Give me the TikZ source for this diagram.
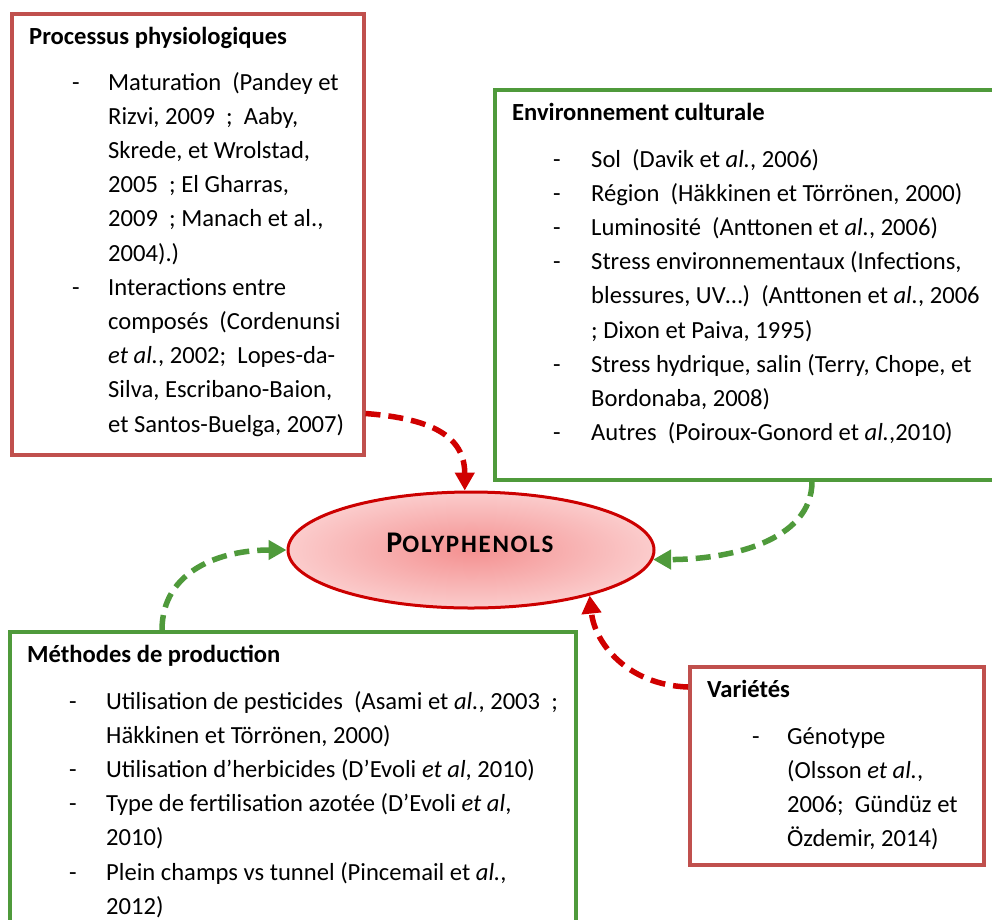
\documentclass[tikz,border=0pt]{standalone}
\usepackage{fontspec}
\setmainfont{Carlito}
\usetikzlibrary{arrows.meta,shapes.geometric,calc}
\definecolor{boxred}{RGB}{192,80,77}
\definecolor{boxgreen}{RGB}{79,154,59}
\definecolor{arrred}{RGB}{208,0,0}
\definecolor{ellred}{RGB}{204,0,0}
\definecolor{ellin}{RGB}{244,145,145}
\definecolor{ellout}{RGB}{251,204,204}
\tikzset{
  rbox/.style={draw=boxred, line width=3.5pt, rectangle, inner sep=0pt, anchor=north west},
  gbox/.style={draw=boxgreen, line width=3.5pt, rectangle, inner sep=0pt, anchor=north west},
  txt/.style={anchor=base west, inner sep=0pt, font=\fontsize{24.6}{34.2}\selectfont},
  ttl/.style={anchor=base west, inner sep=0pt, font=\fontsize{24.6}{34.2}\selectfont\bfseries},
  rarr/.style={draw=arrred, line width=5.5pt, dash pattern=on 15pt off 8pt, -{Triangle[length=18pt,width=19pt]}},
  garr/.style={draw=boxgreen, line width=5.5pt, dash pattern=on 15pt off 8pt, -{Triangle[length=18pt,width=19pt]}},
}
\begin{document}
\begin{tikzpicture}[x=1pt,y=-1pt]
\useasboundingbox (0,0) rectangle (992,919);
% boxes
\node[rbox, minimum width=352pt, minimum height=441pt] (box1) at (10,12) {};
\node[gbox, minimum width=530pt, minimum height=390pt] (box2) at (493,88) {};
\node[gbox, minimum width=566pt, minimum height=320pt] (box3) at (8,630) {};
\node[rbox, minimum width=294pt, minimum height=198pt] (box4) at (688,665) {};
% ellipse
\node[ellipse, draw=ellred, line width=3pt, inner color=ellin, outer color=ellout,
      minimum width=366pt, minimum height=116pt] (ell) at (471,550) {};
\node[inner sep=0pt, font=\bfseries] (poly) at (470,543)
  {\addfontfeature{LetterSpace=7}\fontsize{30}{32}\selectfont P\fontsize{25}{32}\selectfont OLYPHENOLS};
% box 1
\node[ttl] (t1) at (29,44) {Processus physiologiques};
\node[txt] (d1a) at (72,90) {-};
\node[txt] (d1b) at (72,{90+6*34.2}) {-};
\foreach \t [count=\i from 0] in {
  {Maturation\ \ (Pandey et},
  {Rizvi, 2009\ \ ;\ \ Aaby,},
  {Skrede, et Wrolstad,},
  {2005\ \ ; El Gharras,},
  {2009\ \ ; Manach et al.,},
  {2004).)},
  {Interactions entre},
  {composés\ \ (Cordenunsi},
  {\textit{et al.}, 2002;\ \ Lopes-da-},
  {Silva, Escribano-Baion,},
  {et Santos-Buelga, 2007)}}
  \node[txt] (b1l\i) at (108,{90+34.2*\i}) {\t};
% box 2
\node[ttl] (t2) at (512,120) {Environnement culturale};
\foreach \k in {0,1,2,3,6,8}
  \node[txt] (d2\k) at (553,{167+34.2*\k}) {-};
\foreach \t [count=\i from 0] in {
  {Sol\ \ (Davik et \textit{al.}, 2006)},
  {Région\ \ (Häkkinen et Törrönen, 2000)},
  {Luminosité\ \ (Anttonen et \textit{al.}, 2006)},
  {Stress environnementaux (Infections,},
  {blessures, UV…)\ \ (Anttonen et \textit{al.}, 2006},
  {; Dixon et Paiva, 1995)},
  {Stress hydrique, salin (Terry, Chope, et},
  {Bordonaba, 2008)},
  {Autres\ \ (Poiroux-Gonord et \textit{al.},2010)}}
  \node[txt] (b2l\i) at (591,{167+34.2*\i}) {\t};
% box 3
\node[ttl] (t3) at (27,662) {Méthodes de production};
\foreach \k in {0,2,3,5}
  \node[txt] (d3\k) at (69,{709+34.2*\k}) {-};
\foreach \t [count=\i from 0] in {
  {Utilisation de pesticides\ \ (Asami et \textit{al.}, 2003\ \ ;},
  {Häkkinen et Törrönen, 2000)},
  {Utilisation d’herbicides (D’Evoli \textit{et al}, 2010)},
  {Type de fertilisation azotée (D’Evoli \textit{et al},},
  {2010)},
  {Plein champs vs tunnel (Pincemail et \textit{al.},},
  {2012)}}
  \node[txt] (b3l\i) at (106,{709+34.2*\i}) {\t};
% box 4
\node[ttl] (t4) at (707,697) {Variétés};
\node[txt] (d40) at (752,744) {-};
\foreach \t [count=\i from 0] in {
  {Génotype},
  {(Olsson \textit{et al.},},
  {2006;\ \ Gündüz et},
  {Özdemir, 2014)}}
  \node[txt] (b4l\i) at (787,{744+34.2*\i}) {\t};
% connectors
\coordinate (s1) at ($(box1.south east)+(0,-43)$);
\coordinate (s2) at ($(box2.south west)+(319,0)$);
\coordinate (s3) at ($(box3.north west)+(154,0)$);
\coordinate (s4) at ($(box4.north west)+(0,22)$);
\draw[rarr] (s1) .. controls ($(s1)+(65,5)$) and ($(ell.96)+(0,-55)$) .. (ell.96);
\draw[garr] (s2) .. controls ($(s2)+(0,60)$) and ($(ell.-3)+(75,0)$) .. (ell.-3);
\draw[garr] (s3) .. controls ($(s3)+(0,-60)$) and ($(ell.180)+(-65,0)$) .. (ell.180);
\draw[rarr] (s4) .. controls ($(s4)+(-60,-2)$) and ($(ell.-21)+(5,48)$) .. (ell.-21);
\end{tikzpicture}
\end{document}
